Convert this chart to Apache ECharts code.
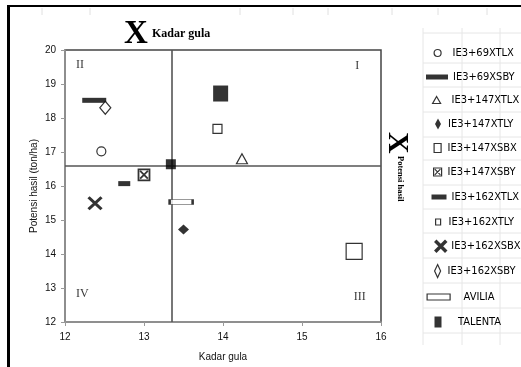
<!DOCTYPE html>
<html><head><meta charset="utf-8">
<script src="https://cdn.jsdelivr.net/npm/echarts@6/dist/echarts.min.js"></script>
<style>html,body{margin:0;padding:0;background:#fff}#c{width:521px;height:367px}</style>
</head><body><div id="c"></div>
<script>
const names = ['IE3+69XTLX','IE3+69XSBY','IE3+147XTLX','IE3+147XTLY','IE3+147XSBX','IE3+147XSBY','IE3+162XTLX','IE3+162XTLY','IE3+162XSBX','IE3+162XSBY','AVILIA','TALENTA'];
const xValues = [12.46, 12.37, 14.24, 13.50, 13.93, 13.00, 12.75, 13.34, 12.38, 12.51, 13.47, 13.97];
const yValues = [17.02, 18.52, 16.80, 14.72, 17.68, 16.33, 16.07, 16.64, 15.49, 18.30, 15.53, 18.72];
const extraPoint = [15.66, 14.08];
const meanX = 13.35;
const meanY = 16.6;
const quadrantNames = ['I','II','III','IV'];
const quadrantX = [15.70, 12.19, 15.73, 12.22];
const quadrantY = [19.53, 19.56, 12.75, 12.84];
const xTicks = [12,13,14,15,16];
const yTicks = [12,13,14,15,16,17,18,19,20];

const XSQ = 'path://M0,0L10,0L10,10L0,10Z M1.5,1.5L8.5,8.5 M8.5,1.5L1.5,8.5';
const XCROSS = 'path://M0,0L10,10M10,0L0,10';
const open = {color:'#fff', borderColor:'#000', borderWidth:1.2};
const filled = {color:'#000'};
const styles = [
  {symbol:'circle', size:9, st:open},
  {symbol:'rect', size:[24,5], st:filled},
  {symbol:'triangle', size:[11,10], st:open},
  {symbol:'diamond', size:[11,10], st:filled},
  {symbol:'rect', size:[9,9], st:open},
  {symbol:XSQ, size:[11,11], st:{color:'#fff', borderColor:'#000', borderWidth:1.8}},
  {symbol:'rect', size:[12,5], st:filled},
  {symbol:'rect', size:[10,10], st:filled},
  {symbol:XCROSS, size:[13,12], st:{color:'rgba(0,0,0,0)', borderColor:'#000', borderWidth:3}},
  {symbol:'diamond', size:[11,13], st:open},
  {symbol:'rect', size:[23,5], st:open},
  {symbol:'rect', size:[15,16], st:filled}
];
// legend layout: [iconCenterX, iconCenterY, iconW, iconH, textX, textCenterY, icon, style]
const legendLayout = [
  [437, 53, 7, 8, 452, 53, 'circle', open],
  [437, 76, 22, 5, 450, 77, 'rect', filled],
  [436, 99, 8, 7, 451, 100, 'triangle', open],
  [438, 123, 6, 11, 448, 124, 'diamond', filled],
  [437, 147, 7, 9, 447, 148, 'rect', open],
  [437, 168, 8, 8, 447, 172, XSQ, {color:'#fff', borderColor:'#000', borderWidth:1.2}],
  [439, 193, 15, 5, 448, 197, 'rect', filled],
  [437.5, 220, 5, 6, 448, 222, 'rect', open],
  [439, 246, 11, 16, 448, 246, XCROSS, {color:'rgba(0,0,0,0)', borderColor:'#000', borderWidth:3.5}],
  [437, 270, 6, 13, 447, 271, 'diamond', open],
  [438, 293, 23, 6, 463, 297, 'rect', open],
  [438, 317, 7, 11, 458, 322, 'rect', filled]
];

const series = names.map((n,i)=>({
  name:n, type:'scatter', data:[[xValues[i], yValues[i]]],
  symbol:styles[i].symbol, symbolSize:styles[i].size, itemStyle:styles[i].st, z:5
}));
series.push({name:'extra', type:'scatter', data:[extraPoint], symbol:'rect', symbolSize:[16,16], itemStyle:open, z:5});
series.push({name:'quadrant', type:'scatter', symbolSize:0, silent:true,
  data: quadrantNames.map((q,i)=>({value:[quadrantX[i], quadrantY[i]], label:{formatter:q}})),
  label:{show:true, position:'inside', fontFamily:'Liberation Serif', fontSize:12, color:'#000'},
  markLine:{silent:true, symbol:'none', label:{show:false}, lineStyle:{color:'#555', width:1.6, type:'solid'},
    data:[{xAxis:meanX},{yAxis:meanY}]}
});

const legends = legendLayout.map((L,i)=>{
  const [cx, cy, w, h, tx, ty, icon, st] = L;
  const left = cx - w/2;
  const textStart = left + w + 5;
  return {
    show:true, orient:'vertical', selectedMode:false, padding:0,
    left: left, top: ty - 7,
    itemWidth:w, itemHeight:h,
    data:[{name:names[i], icon:icon, itemStyle:st}],
    textStyle:{fontFamily:'"DejaVu Sans Condensed", "Liberation Sans Narrow", "Liberation Sans"', fontSize:11, color:'#000', lineHeight:14, padding:[0,0,0,Math.max(0, tx - textStart)]}
  };
});

// decorative spreadsheet lines around legend
const deco = [];
const hl = [33, 63, 87, 112, 137, 160, 185, 209, 233, 258, 283, 308, 333];
hl.forEach(y=>deco.push({type:'line', shape:{x1:423, y1:y, x2:521, y2:y}, style:{stroke:'#e6e6e6', lineWidth:1}}));
[423, 462, 500].forEach(x=>deco.push({type:'line', shape:{x1:x, y1:28, x2:x, y2:345}, style:{stroke:'#e6e6e6', lineWidth:1}}));
[42, 90, 240, 293, 328, 392, 438, 487].forEach(x=>deco.push({type:'line', shape:{x1:x, y1:8, x2:x, y2:15}, style:{stroke:'#e0e0e0', lineWidth:1}}));
deco.push({type:'line', shape:{x1:7, y1:6, x2:521, y2:6}, style:{stroke:'#000', lineWidth:2.2}});
deco.push({type:'line', shape:{x1:8.5, y1:5, x2:8.5, y2:367}, style:{stroke:'#000', lineWidth:3}});
deco.push({type:'text', left:124, top:18, style:{text:'X', font:'bold 33px "Liberation Serif"', fill:'#000'}});
deco.push({type:'text', left:152, top:28, style:{text:'Kadar gula', font:'bold 12px "Liberation Serif"', fill:'#000'}});
deco.push({type:'text', x:412, y:132, rotation:-Math.PI/2, style:{text:'X', font:'bold 30px "Liberation Serif"', fill:'#000'}});
deco.push({type:'text', x:405, y:156, rotation:-Math.PI/2, style:{text:'Potensi hasil', font:'bold 8.5px "Liberation Serif"', fill:'#000'}});

const option = {
  animation:false,
  backgroundColor:'#fff',
  grid:{left:65, right:140, top:50, bottom:45, show:true, borderColor:'#444', borderWidth:1.5, backgroundColor:'transparent'},
  xAxis:{type:'value', min:xTicks[0], max:xTicks[xTicks.length-1], interval:1,
    name:'Kadar gula', nameLocation:'middle', nameGap:30, nameTextStyle:{fontFamily:'Liberation Sans', fontSize:10, color:'#111'},
    axisLine:{show:true, lineStyle:{color:'#999', width:1.5}}, axisTick:{show:true, length:4, lineStyle:{color:'#999'}},
    axisLabel:{fontFamily:'Liberation Sans', fontSize:10, color:'#111', margin:10}, splitLine:{show:false}},
  yAxis:{type:'value', min:yTicks[0], max:yTicks[yTicks.length-1], interval:1,
    name:'Potensi hasil (ton/ha)', nameLocation:'middle', nameGap:26, nameMoveOverlap:false, nameTextStyle:{fontFamily:'Liberation Sans', fontSize:10, color:'#111'},
    axisLine:{show:true, lineStyle:{color:'#999', width:1.5}}, axisTick:{show:true, length:4, lineStyle:{color:'#999'}},
    axisLabel:{fontFamily:'Liberation Sans', fontSize:10, color:'#111', margin:9}, splitLine:{show:false}},
  legend: legends,
  graphic: deco,
  series: series
};
const chart = echarts.init(document.getElementById('c'), null, {renderer:'canvas'});
chart.setOption(option);
</script></body></html>
